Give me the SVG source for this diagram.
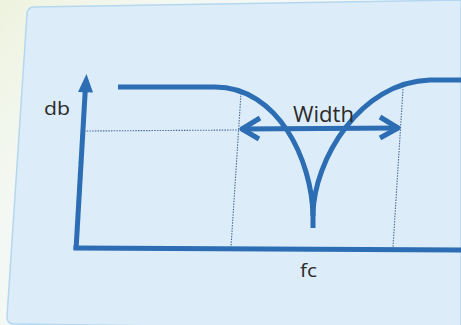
<svg xmlns="http://www.w3.org/2000/svg" width="461" height="325" viewBox="0 0 461 325">
  <defs>
    <linearGradient id="bg" x1="0" y1="0" x2="1" y2="0.6">
      <stop offset="0" stop-color="#eef3df"/>
      <stop offset="0.3" stop-color="#f4f8f4"/>
      <stop offset="1" stop-color="#f2f8fb"/>
    </linearGradient>
    <style>
      .blue{stroke:#2c6db3;fill:none;stroke-width:5;stroke-linecap:butt;stroke-linejoin:round}
      .dot{stroke:#4d6b9c;fill:none;stroke-width:1.1;stroke-dasharray:1.5 1.2}
      .lbl{font-family:"Open Sans","Liberation Sans",sans-serif;fill:#2b2b2b}
    </style>
  </defs>
  <rect width="461" height="325" fill="url(#bg)"/>
  <path d="M34,7 L461,0 L461,330 L14,324 Q7,324 7,317 L27,14 Q27.5,7.2 34,7 Z" fill="#dcedf9" stroke="#b4d7ef" stroke-width="1.5"/>

  <g id="axes">
    <path class="blue" d="M76,250 L85.5,86"/>
    <polygon points="86.5,74 78,92 93,92.5" fill="#2c6db3"/>
    <path class="blue" d="M73.5,248 L461,250"/>
  </g>

  <g id="guides">
    <path class="dot" d="M84,131 L240,130"/>
    <path class="dot" d="M241,93 L231,247"/>
    <path class="dot" d="M403,89 L393,247"/>
  </g>

  <g id="curve">
    <path class="blue" d="M118,87 L215,87 C278,87 312,160 313,216"/>
    <path class="blue" d="M313,228 L313,214 C314,160 360,82 430,80 L461,80"/>
  </g>

  <g id="width-arrow">
    <path class="blue" d="M241,129 L399,128"/>
    <path class="blue" d="M260,118 L242,129 L259,139"/>
    <path class="blue" d="M380,117 L398,128 L380,138"/>
  </g>

  <text class="lbl" x="44" y="115" font-size="18" textLength="26" lengthAdjust="spacingAndGlyphs">db</text>
  <text class="lbl" x="293" y="122" font-size="21" textLength="61" lengthAdjust="spacingAndGlyphs">Width</text>
  <text class="lbl" x="300" y="277" font-size="19" textLength="17" lengthAdjust="spacingAndGlyphs">fc</text>
</svg>
